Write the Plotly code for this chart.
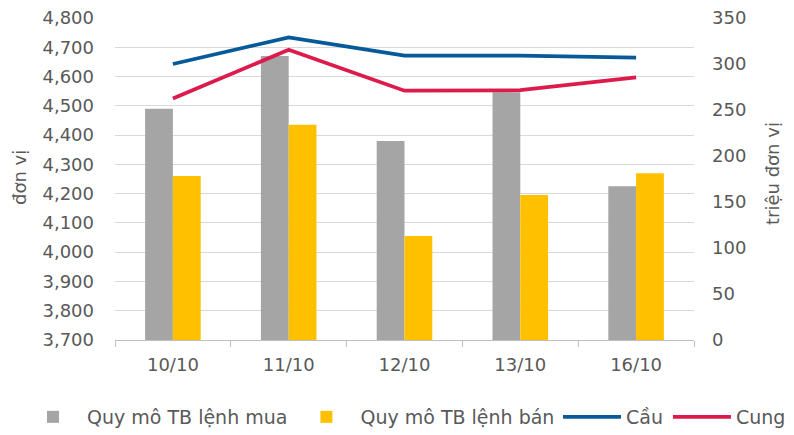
import plotly.graph_objects as go

categories = ["10/10", "11/10", "12/10", "13/10", "16/10"]
mua = [4490, 4670, 4380, 4546, 4225]
ban = [4260, 4435, 4055, 4195, 4270]
cau = [300, 329, 309, 309, 307]
cung = [262.5, 315.5, 271, 271.5, 285.5]

left_ticks = list(range(3700, 4801, 100))
right_ticks = list(range(0, 351, 50))

font_fam = "DejaVu Sans, sans-serif"
txt = "#595959"

fig = go.Figure()
fig.add_trace(go.Bar(x=categories, y=mua, name="Quy mô TB lệnh mua",
                     marker=dict(color="#a5a5a5", line=dict(width=0)), yaxis="y",
                     legend="legend"))
fig.add_trace(go.Bar(x=categories, y=ban, name="Quy mô TB lệnh bán",
                     marker=dict(color="#ffc000", line=dict(width=0)), yaxis="y",
                     legend="legend"))
fig.add_trace(go.Scatter(x=categories, y=cau, name="Cầu", mode="lines",
                         line=dict(color="#065a9a", width=3.75), yaxis="y2",
                         legend="legend2"))
fig.add_trace(go.Scatter(x=categories, y=cung, name="Cung", mode="lines",
                         line=dict(color="#dc1a4c", width=3.75), yaxis="y2",
                         legend="legend2"))

# page body has an 8px margin, so the figure is slightly smaller and shifted
W, H = 786, 427
L, R, T, B = 107, 100, 10, 95
PW, PH = W - L - R, H - T - B

def px_x(screen_x):
    return (screen_x - 8 - L) / PW

def px_y(screen_y):
    return (T + PH - (screen_y - 8)) / PH

leg_common = dict(orientation="h", xanchor="left", yanchor="middle",
                  y=px_y(417), font=dict(size=19, color=txt),
                  traceorder="normal", itemwidth=58, bgcolor="rgba(0,0,0,0)")

fig.update_layout(
    width=W, height=H,
    margin=dict(l=L, r=R, t=T, b=B, autoexpand=False),
    paper_bgcolor="white", plot_bgcolor="white",
    font=dict(family=font_fam, size=18, color=txt),
    barmode="group", bargap=0.52, bargroupgap=0,
    xaxis=dict(type="category", showgrid=False, showline=True, linecolor="#bfbfbf",
               linewidth=1, ticks="outside", tickson="boundaries", ticklen=6,
               tickcolor="#bfbfbf", tickfont=dict(size=18, color=txt),
               ticklabelstandoff=8, automargin=False, ticklabeloverflow="allow"),
    yaxis=dict(range=[3700, 4800], tickvals=left_ticks,
               ticktext=[f"{v:,}" for v in left_ticks],
               showgrid=True, gridcolor="#d9d9d9", gridwidth=1, zeroline=False,
               showline=False, ticks="", tickfont=dict(size=18, color=txt),
               ticklabelstandoff=20, automargin=False, ticklabeloverflow="allow"),
    yaxis2=dict(range=[0, 350], tickvals=right_ticks, overlaying="y", side="right",
                showgrid=False, zeroline=False, showline=False, ticks="",
                tickfont=dict(size=18, color=txt), ticklabelstandoff=17,
                automargin=False, ticklabeloverflow="allow"),
    legend=dict(x=px_x(19), **leg_common),
    legend2=dict(x=px_x(558), **leg_common),
    annotations=[
        dict(text="đơn vị", xref="paper", yref="paper", x=px_x(19), y=px_y(178),
             textangle=-90, showarrow=False, xanchor="center", yanchor="middle",
             font=dict(size=18, color=txt)),
        dict(text="triệu đơn vị", xref="paper", yref="paper", x=px_x(772), y=px_y(174),
             textangle=-90, showarrow=False, xanchor="center", yanchor="middle",
             font=dict(size=18, color=txt)),
    ],
)

fig.write_html("out.html")
